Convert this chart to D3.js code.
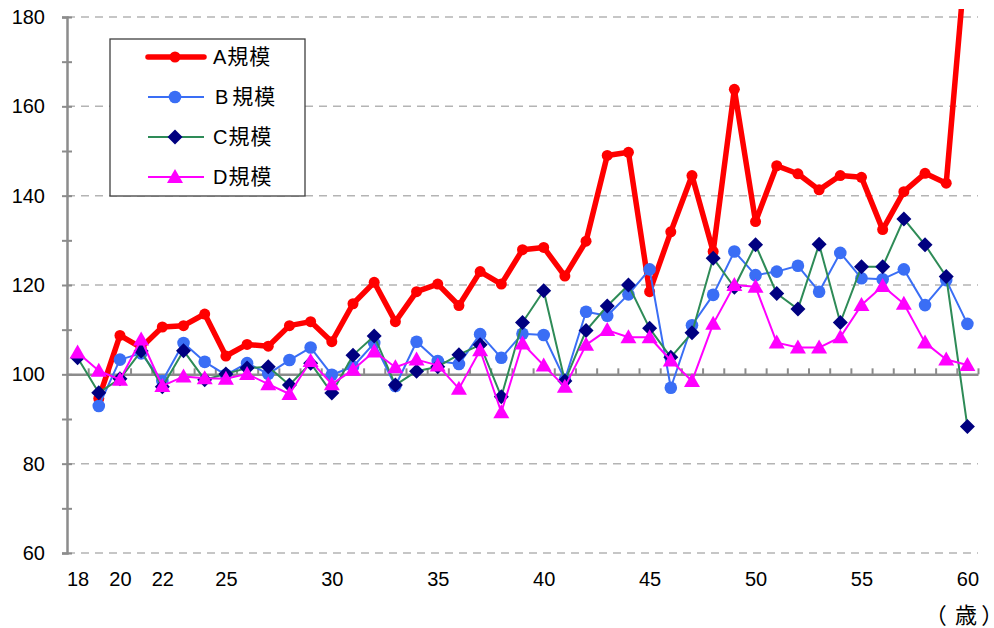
<!DOCTYPE html>
<html>
<head>
<meta charset="utf-8">
<script src="https://cdn.jsdelivr.net/npm/d3@7"></script>
<style>
  html, body { margin: 0; padding: 0; background: #fff; }
  svg { display: block; }
</style>
</head>
<body>
<svg id="chart" width="994" height="628"></svg>
<script>
// ---- data ----
const ages = d3.range(18, 61);
const xTickLabels = [18, 20, 22, 25, 30, 35, 40, 45, 50, 55, 60];
const yTicks = [60, 80, 100, 120, 140, 160, 180];
const yMinorTicks = [70, 90, 110, 130, 150, 170];
const seriesLetters = ["A", "B", "C", "D"];
const seriesSuffix = "規模";
const unitLabel = "（歳）";

const seriesA = [null, 94.6, 108.7, 106, 110.6, 110.9, 113.5, 104.1, 106.7, 106.3, 110.9, 111.8, 107.3, 115.8, 120.6, 111.8, 118.5, 120.2, 115.4, 123, 120.2, 127.9, 128.4, 122, 129.8, 149, 149.7, 118.5, 131.9, 144.5, 127.5, 163.8, 134.2, 146.7, 144.9, 141.3, 144.5, 144.1, 132.4, 140.9, 145, 142.8, 197.5];
const seriesB = [null, 92.9, 103.3, 104.7, 98.5, 107, 102.8, 99.9, 102.5, 100.1, 103.2, 106, 99.9, 101.7, 107, 97.4, 107.3, 103, 102.3, 109, 103.7, 109.1, 108.8, 98.8, 114, 113.1, 117.9, 123.5, 97, 111, 117.8, 127.5, 122.2, 123, 124.3, 118.5, 127.2, 121.5, 121.3, 123.5, 115.5, 121.1, 111.3];
const seriesC = [103.7, 95.9, 99, 105.2, 97.2, 105.3, 98.8, 100.1, 101.4, 101.7, 97.6, 102.5, 95.8, 104.3, 108.6, 97.6, 100.7, 101.7, 104.4, 106.6, 95, 111.6, 118.7, 98.5, 109.8, 115.3, 120, 110.3, 103.8, 109.3, 126, 119.5, 129, 118.1, 114.6, 129.1, 111.6, 124.1, 124.1, 134.8, 129, 121.9, 88.3];
const seriesD = [104.9, 100.8, 98.8, 107.8, 97.4, 99.5, 99.1, 99, 100.1, 97.8, 95.6, 103, 97.8, 101, 105.1, 101.6, 103.3, 102, 96.8, 105.4, 91.5, 106.9, 102, 97.2, 106.6, 109.9, 108.3, 108.3, 103.1, 98.5, 111.3, 120, 119.6, 107.1, 106, 106, 108.3, 115.5, 119.8, 115.8, 107.1, 103.3, 102.1];

// ---- styles ----
const styles = [
  { values: seriesA, line: "#ff0000", lw: 5.5, marker: "circle", fill: "#ff0000", size: 5.5 },
  { values: seriesB, line: "#3a6ef5", lw: 2, marker: "circle", fill: "#3a6ef5", size: 6.3 },
  { values: seriesC, line: "#2e8b57", lw: 2, marker: "diamond", fill: "#000080", size: 7.5 },
  { values: seriesD, line: "#ff00ff", lw: 2, marker: "triangle", fill: "#ff00ff", size: 8 }
];

const numFont = "'Liberation Sans', Arial, sans-serif";
const cjkFont = "'Noto Sans CJK JP', sans-serif";

const svg = d3.select("#chart");
const pLeft = 67, pRight = 978, pTop = 17, pBottom = 553;

const x = d3.scaleLinear().domain([17.5, 60.5]).range([pLeft, pRight]);
const y = d3.scaleLinear().domain([60, 180]).range([pBottom, pTop]);

// gridlines (dashed)
svg.append("g").selectAll("line")
  .data(yTicks.filter(v => v !== 100))
  .join("line")
  .attr("x1", pLeft).attr("x2", pRight)
  .attr("y1", d => y(d)).attr("y2", d => y(d))
  .attr("stroke", "#b4b4b4").attr("stroke-width", 1.5)
  .attr("stroke-dasharray", "8,6");

// y axis
const yAxis = d3.axisLeft(y).tickValues(yTicks).tickSize(5).tickPadding(17).tickFormat(d3.format("d"));
const gy = svg.append("g").attr("transform", `translate(${pLeft},0)`).call(yAxis);
gy.select(".domain").attr("stroke", "#8c8c8c").attr("stroke-width", 2.5);
gy.selectAll(".tick line").attr("stroke", "#8c8c8c").attr("stroke-width", 2).attr("x2", 5).attr("x1", -5);
gy.selectAll(".tick text").style("font-size", "20px").style("font-family", numFont).attr("fill", "#000");

// minor y ticks
const yMinor = d3.axisLeft(y).tickValues(yMinorTicks).tickSize(5).tickFormat("");
const gym = svg.append("g").attr("transform", `translate(${pLeft},0)`).call(yMinor);
gym.select(".domain").remove();
gym.selectAll(".tick line").attr("stroke", "#8c8c8c").attr("stroke-width", 2).attr("x2", 5).attr("x1", -5);

// x axis at y=100 with category boundary ticks
const boundaries = d3.range(18.5, 60.6, 1);
const xAxis = d3.axisBottom(x).tickValues(boundaries).tickSizeInner(-6).tickSizeOuter(0).tickFormat("");
const gx = svg.append("g").attr("transform", `translate(0,${y(100)})`).call(xAxis);
gx.select(".domain").attr("stroke", "#8c8c8c").attr("stroke-width", 2.5);
gx.selectAll(".tick line").attr("stroke", "#8c8c8c").attr("stroke-width", 2);

// x labels at bottom
const xLab = d3.axisBottom(x).tickValues(xTickLabels).tickSize(0).tickPadding(19).tickFormat(d3.format("d"));
const gxl = svg.append("g").attr("transform", `translate(0,${pBottom})`).call(xLab);
gxl.select(".domain").remove();
gxl.selectAll(".tick text").style("font-size", "20px").style("font-family", numFont).attr("fill", "#000");

// unit label: proportional punctuation, spaced with tspans
const ut = svg.append("text").attr("x", 935).attr("y", 623).attr("fill", "#000")
  .style("font-size", "22px").style("font-family", cjkFont)
  .style("font-feature-settings", "'palt' 1");
const uChars = Array.from(unitLabel);
ut.append("tspan").text(uChars[0]);
ut.append("tspan").attr("dx", 9).text(uChars[1]);
ut.append("tspan").attr("dx", 5).text(uChars[2]);

// clip
svg.append("defs").append("clipPath").attr("id", "clip")
  .append("rect").attr("x", 0).attr("y", 9).attr("width", 994).attr("height", 600);

const plot = svg.append("g").attr("clip-path", "url(#clip)");

function markerPath(type, s) {
  if (type === "diamond") return `M0,${-s}L${s},0L0,${s}L${-s},0Z`;
  if (type === "triangle") return `M0,${-s}L${s},${s*0.75}L${-s},${s*0.75}Z`;
  return null;
}

function drawMarker(g, st, cx, cy) {
  if (st.marker === "circle") {
    g.append("circle").attr("cx", cx).attr("cy", cy).attr("r", st.size).attr("fill", st.fill);
  } else {
    g.append("path").attr("d", markerPath(st.marker, st.size))
      .attr("transform", `translate(${cx},${cy})`).attr("fill", st.fill);
  }
}

styles.forEach(st => {
  const pts = ages.map((a, i) => ({ a, v: st.values[i] })).filter(d => d.v != null);
  const line = d3.line().x(d => x(d.a)).y(d => y(d.v));
  const g = plot.append("g");
  g.append("path").datum(pts).attr("d", line).attr("fill", "none")
    .attr("stroke", st.line).attr("stroke-width", st.lw).attr("stroke-linejoin", "round");
  pts.forEach(d => {
    if (y(d.v) > 0) drawMarker(g, st, x(d.a), y(d.v));
  });
});

// legend
const lg = svg.append("g");
lg.append("rect").attr("x", 110).attr("y", 39).attr("width", 195).attr("height", 157)
  .attr("fill", "#fff").attr("stroke", "#404040").attr("stroke-width", 1.3);
const legendY = [57, 97, 137, 177];
styles.forEach((st, i) => {
  const yy = legendY[i];
  lg.append("line").attr("x1", 148).attr("x2", 204).attr("y1", yy).attr("y2", yy)
    .attr("stroke", st.line).attr("stroke-width", st.lw).attr("stroke-linecap", i === 0 ? "round" : "butt");
  drawMarker(lg, st, 175, yy);
  const t = lg.append("text").attr("x", i === 1 ? 215 : 213).attr("y", yy + 7).attr("fill", "#000")
    .style("font-size", "20px");
  t.append("tspan").style("font-family", numFont).text(seriesLetters[i]);
  t.append("tspan").attr("dx", i === 1 ? 4 : 1).style("font-family", cjkFont)
    .style("font-size", "21px").style("letter-spacing", "1px").text(seriesSuffix);
});
</script>
</body>
</html>
